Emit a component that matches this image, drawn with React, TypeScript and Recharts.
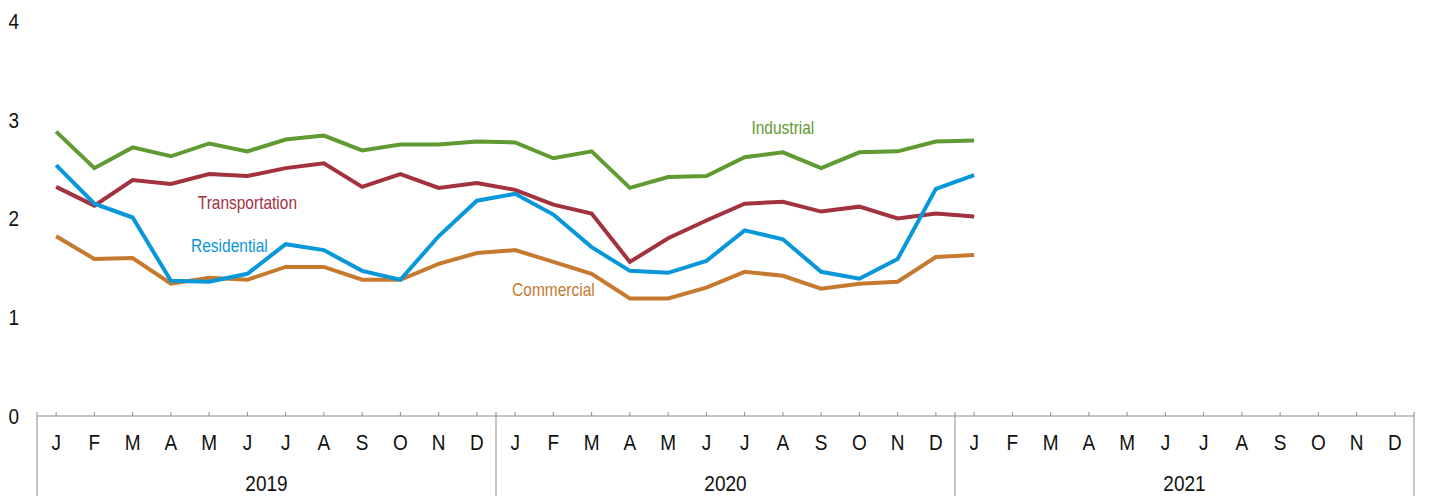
import React from "react";
import { LineChart, Line, XAxis, YAxis, ReferenceDot } from "recharts";

const months = ["J", "F", "M", "A", "M", "J", "J", "A", "S", "O", "N", "D"];
const years = ["2019", "2020", "2021"];
const yTicks = [0, 1, 2, 3, 4];

// monthly values, Jan 2019 – Jan 2021
const industrial = [
  2.88, 2.51, 2.72, 2.63, 2.76, 2.68, 2.8, 2.84, 2.69, 2.75, 2.75, 2.78,
  2.77, 2.61, 2.68, 2.31, 2.42, 2.43, 2.62, 2.67, 2.51, 2.67, 2.68, 2.78,
  2.79,
];
const transportation = [
  2.32, 2.13, 2.39, 2.35, 2.45, 2.43, 2.51, 2.56, 2.32, 2.45, 2.31, 2.36,
  2.29, 2.14, 2.05, 1.56, 1.8, 1.98, 2.15, 2.17, 2.07, 2.12, 2.0, 2.05,
  2.02,
];
const residential = [
  2.54, 2.15, 2.01, 1.37, 1.36, 1.44, 1.74, 1.68, 1.47, 1.38, 1.82, 2.18,
  2.25, 2.04, 1.71, 1.47, 1.45, 1.57, 1.88, 1.79, 1.46, 1.39, 1.59, 2.3,
  2.44,
];
const commercial = [
  1.82, 1.59, 1.6, 1.34, 1.4, 1.38, 1.51, 1.51, 1.38, 1.38, 1.54, 1.65,
  1.68, 1.56, 1.44, 1.19, 1.19, 1.3, 1.46, 1.42, 1.29, 1.34, 1.36, 1.61,
  1.63,
];

const COLORS = {
  industrial: "#5f9a32",
  transportation: "#a3323f",
  residential: "#0897d8",
  commercial: "#c57a2f",
};
const AXIS = "#8c8c8c";
const FONT = "'Liberation Sans', Arial, sans-serif";
const STRETCH = 1.15;

const data = years.flatMap((year, yi) =>
  months.map((m, mi) => {
    const i = yi * 12 + mi;
    return {
      key: `${year}-${mi}`,
      month: m,
      year,
      industrial: industrial[i] ?? null,
      transportation: transportation[i] ?? null,
      residential: residential[i] ?? null,
      commercial: commercial[i] ?? null,
    };
  })
);

const MonthTick = (props: any) => {
  const { x, y, payload } = props;
  const idx = payload.index as number;
  const off = payload.offset ?? 0;
  const row = data[idx];
  const mi = idx % 12;
  return (
    <g>
      <line x1={x} x2={x} y1={y - 4} y2={y} stroke={AXIS} strokeWidth={1} />
      {mi === 0 && (
        <line x1={x - off} x2={x - off} y1={y - 4} y2={y + 80} stroke={AXIS} strokeWidth={1} />
      )}
      {idx === data.length - 1 && (
        <line x1={x + off} x2={x + off} y1={y - 4} y2={y + 80} stroke={AXIS} strokeWidth={1} />
      )}
      <g transform={`translate(${x},${y + 26.5}) scale(1,${STRETCH})`}>
        <text x={0} y={0} dy="0.36em" textAnchor="middle" fontSize={19} fontFamily={FONT} fill="#111">
          {row.month}
        </text>
      </g>
      {mi === 5 && (
        <g transform={`translate(${x + off},${y + 67}) scale(1,${STRETCH})`}>
          <text x={0} y={0} dy="0.36em" textAnchor="middle" fontSize={19} fontFamily={FONT} fill="#111">
            {row.year}
          </text>
        </g>
      )}
    </g>
  );
};

const ValueTick = (props: any) => {
  const { x, y, payload } = props;
  return (
    <g transform={`translate(${x},${y}) scale(1,${STRETCH})`}>
      <text x={0} y={0} dy="0.36em" textAnchor="end" fontSize={19} fontFamily={FONT} fill="#111">
        {payload.value}
      </text>
    </g>
  );
};

const seriesLabel = (text: string, color: string, dx = 0) => (p: any) => {
  const vb = p.viewBox || {};
  const cx = (vb.x ?? 0) + (vb.width ?? 0) / 2 + dx;
  const cy = (vb.y ?? 0) + (vb.height ?? 0) / 2;
  return (
    <g transform={`translate(${cx},${cy}) scale(1,${STRETCH})`}>
      <text x={0} y={0} dy="0.36em" textAnchor="middle" fontSize={15.5} fontFamily={FONT} fill={color}>
        {text}
      </text>
    </g>
  );
};

export default function App() {
  return (
    <div style={{ width: 1431, height: 498, background: "#fff" }}>
      <style>{`body{margin:0}`}</style>
      <LineChart
        width={1431}
        height={498}
        data={data}
        margin={{ top: 21, right: 17, left: 0, bottom: 0 }}
      >
        <XAxis
          dataKey="key"
          scale="band"
          interval={0}
          height={82}
          tickSize={0}
          tickMargin={0}
          tickLine={false}
          axisLine={{ stroke: AXIS, strokeWidth: 1.2 }}
          tick={<MonthTick />}
        />
        <YAxis
          domain={[0, 4]}
          ticks={yTicks}
          width={37}
          axisLine={false}
          tickLine={false}
          tickSize={0}
          tickMargin={18}
          tick={<ValueTick />}
        />
        <Line dataKey="industrial" stroke={COLORS.industrial} strokeWidth={4} dot={false} isAnimationActive={false} />
        <Line dataKey="transportation" stroke={COLORS.transportation} strokeWidth={4} dot={false} isAnimationActive={false} />
        <Line dataKey="commercial" stroke={COLORS.commercial} strokeWidth={4} dot={false} isAnimationActive={false} />
        <Line dataKey="residential" stroke={COLORS.residential} strokeWidth={4} dot={false} isAnimationActive={false} />
        <ReferenceDot x="2020-7" y={2.92} r={0} fill="none" stroke="none" label={seriesLabel("Industrial", COLORS.industrial)} />
        <ReferenceDot x="2019-5" y={2.16} r={0} fill="none" stroke="none" label={seriesLabel("Transportation", COLORS.transportation)} />
        <ReferenceDot x="2019-5" y={1.73} r={0} fill="none" stroke="none" label={seriesLabel("Residential", COLORS.residential, -18)} />
        <ReferenceDot x="2020-1" y={1.28} r={0} fill="none" stroke="none" label={seriesLabel("Commercial", COLORS.commercial)} />
      </LineChart>
    </div>
  );
}
